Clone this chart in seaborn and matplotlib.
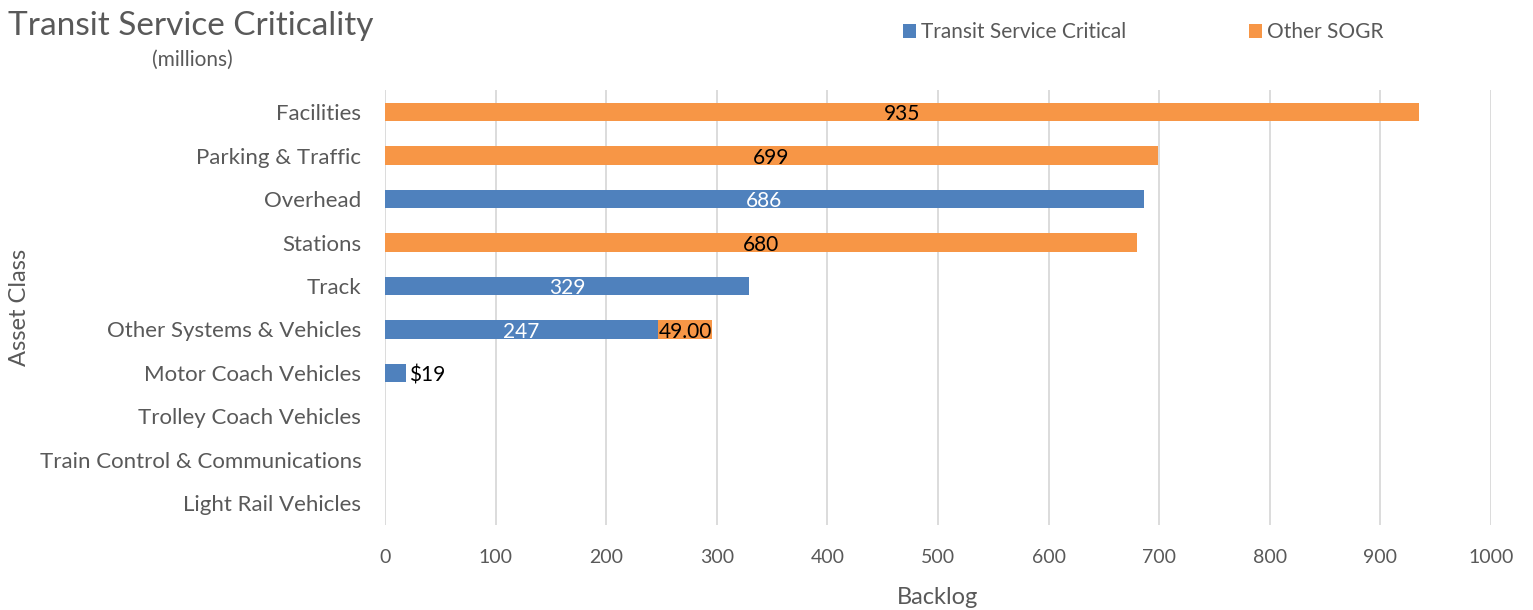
import matplotlib
matplotlib.use("Agg")
import matplotlib.pyplot as plt
import seaborn as sns
import pandas as pd
from matplotlib.patches import Patch

# Backlog by asset class, in millions
categories = [
    "Facilities", "Parking & Traffic", "Overhead", "Stations", "Track",
    "Other Systems & Vehicles", "Motor Coach Vehicles", "Trolley Coach Vehicles",
    "Train Control & Communications", "Light Rail Vehicles",
]
critical = [0, 0, 686, 0, 329, 247, 19, 0, 0, 0]
other_sogr = [935, 699, 0, 680, 0, 49, 0, 0, 0, 0]
critical_labels = ["", "", "686", "", "329", "247", "$19", "", "", ""]
other_labels = ["935", "699", "", "680", "", "49.00", "", "", "", ""]
xticks = [0, 100, 200, 300, 400, 500, 600, 700, 800, 900, 1000]

BLUE = "#4f81bd"
ORANGE = "#f79646"
GREY = "#595959"

sns.set_theme(style="white")
plt.rcParams["font.family"] = ["Lato", "DejaVu Sans"]

df = pd.DataFrame({
    "cat": categories,
    "critical": critical,
    "other": other_sogr,
})
df["total"] = df["critical"] + df["other"]

fig = plt.figure(figsize=(15.33, 6.10), dpi=100)
ax = fig.add_axes([0.2511, 0.139, 0.7215, 0.713])

# Stacked horizontal bars: full total in orange, critical portion on top in blue
sns.barplot(data=df, y="cat", x="total", color=ORANGE, saturation=1,
            width=0.42, orient="h", ax=ax, edgecolor="none")
sns.barplot(data=df, y="cat", x="critical", color=BLUE, saturation=1,
            width=0.42, orient="h", ax=ax, edgecolor="none")

for i, (c, o, cl, ol) in enumerate(zip(critical, other_sogr, critical_labels, other_labels)):
    if cl:
        if cl.startswith("$"):
            ax.text(c + 3, i + 0.05, cl, va="center", ha="left", fontsize=15, color="black")
        else:
            ax.text(c / 2, i + 0.05, cl, va="center", ha="center", fontsize=15, color="white")
    if ol:
        ax.text(c + o / 2, i + 0.05, ol, va="center", ha="center", fontsize=15, color="black")

ax.set_xlim(0, 1000)
ax.set_ylim(9.5, -0.5)
ax.set_xticks(xticks)
ax.set_xticklabels([str(t) for t in xticks])
ax.xaxis.grid(True, color="#d9d9d9", linewidth=1.3)
ax.set_axisbelow(True)
for s in ax.spines.values():
    s.set_visible(False)
ax.tick_params(axis="x", colors=GREY, labelsize=14, length=0, pad=17)
ax.tick_params(axis="y", colors=GREY, labelsize=16, length=0, pad=17)
ax.set_xlabel("Backlog", fontsize=17, color=GREY, va="center")
ax.set_ylabel("Asset Class", fontsize=17, color=GREY, va="center")
ax.xaxis.set_label_coords(0.5, -0.166)
ax.yaxis.set_label_coords(-0.33, 0.5)

fig.text(0.005, 0.957, "Transit Service Criticality", fontsize=24, color=GREY,
         ha="left", va="center")
fig.text(0.1255, 0.902, "(millions)", fontsize=15, color=GREY, ha="center", va="center")

handles = [Patch(facecolor=BLUE, edgecolor="none"), Patch(facecolor=ORANGE, edgecolor="none")]
fig.legend(handles, ["Transit Service Critical", "Other SOGR"], loc="center left",
           bbox_to_anchor=(0.577, 0.947), ncol=2, frameon=False, fontsize=15,
           labelcolor=GREY, handlelength=0.6, handleheight=0.6, handletextpad=0.25,
           columnspacing=5.9)

fig.savefig("out.png", dpi=100)
